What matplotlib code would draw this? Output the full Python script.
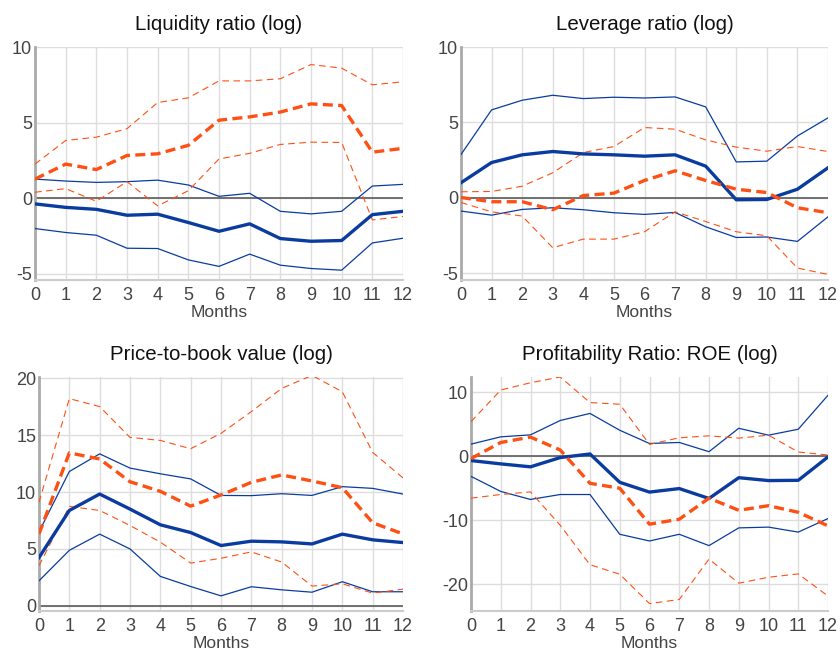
import matplotlib
matplotlib.use("Agg")
import matplotlib.pyplot as plt

months = list(range(13))

# Liquidity ratio (log)
liq_blue = [-0.37, -0.6, -0.73, -1.12, -1.05, -1.6, -2.18, -1.69, -2.66, -2.84, -2.79, -1.08, -0.86]
liq_blue_hi = [1.27, 1.14, 1.05, 1.1, 1.2, 0.88, 0.13, 0.33, -0.86, -1.03, -0.86, 0.81, 0.92]
liq_blue_lo = [-2.0, -2.26, -2.44, -3.3, -3.32, -4.07, -4.5, -3.69, -4.42, -4.64, -4.75, -2.95, -2.64]
liq_red = [1.27, 2.26, 1.9, 2.83, 2.94, 3.5, 5.16, 5.38, 5.7, 6.24, 6.13, 3.05, 3.3]
liq_red_hi = [2.26, 3.82, 4.04, 4.6, 6.33, 6.64, 7.76, 7.76, 7.9, 8.84, 8.6, 7.5, 7.7]
liq_red_lo = [0.4, 0.64, -0.2, 1.1, -0.5, 0.5, 2.6, 2.97, 3.56, 3.71, 3.69, -1.43, -1.2]

# Leverage ratio (log)
lev_blue = [1.0, 2.34, 2.85, 3.07, 2.91, 2.85, 2.76, 2.85, 2.1, -0.13, -0.11, 0.57, 1.99]
lev_blue_hi = [2.87, 5.83, 6.47, 6.8, 6.58, 6.67, 6.62, 6.69, 6.03, 2.38, 2.43, 4.1, 5.3]
lev_blue_lo = [-0.88, -1.15, -0.77, -0.66, -0.79, -0.99, -1.1, -0.97, -1.92, -2.63, -2.6, -2.89, -1.26]
lev_red = [0.02, -0.26, -0.26, -0.79, 0.15, 0.31, 1.15, 1.79, 1.15, 0.57, 0.35, -0.66, -0.99]
lev_red_hi = [0.4, 0.42, 0.77, 1.66, 3.0, 3.4, 4.66, 4.55, 3.84, 3.36, 3.09, 3.4, 3.07]
lev_red_lo = [-0.31, -0.93, -1.21, -3.31, -2.74, -2.74, -2.25, -0.93, -1.57, -2.25, -2.52, -4.66, -5.08]

# Price-to-book value (log)
pb_blue = [4.24, 8.38, 9.82, 8.5, 7.12, 6.44, 5.3, 5.68, 5.62, 5.44, 6.3, 5.8, 5.56]
pb_blue_hi = [6.5, 11.8, 13.35, 12.1, 11.6, 11.15, 9.7, 9.68, 9.85, 9.7, 10.47, 10.32, 9.82]
pb_blue_lo = [2.2, 4.88, 6.3, 5.0, 2.59, 1.7, 0.88, 1.68, 1.41, 1.2, 2.12, 1.24, 1.24]
pb_red = [6.32, 13.44, 12.9, 10.9, 10.06, 8.76, 9.74, 10.85, 11.5, 10.97, 10.38, 7.3, 6.32]
pb_red_hi = [9.1, 18.2, 17.5, 14.8, 14.53, 13.8, 15.15, 17.06, 19.1, 20.24, 18.8, 13.47, 11.24]
pb_red_lo = [3.53, 8.74, 8.38, 7.06, 5.6, 3.76, 4.18, 4.74, 3.85, 1.74, 1.94, 1.12, 1.47]

# Profitability Ratio: ROE (log)
roe_blue = [-0.67, -1.19, -1.65, -0.2, 0.36, -4.07, -5.6, -5.05, -6.6, -3.35, -3.8, -3.76, -0.1]
roe_blue_hi = [1.9, 3.04, 3.35, 5.6, 6.7, 4.07, 2.0, 2.16, 0.72, 4.38, 3.3, 4.23, 9.54]
roe_blue_lo = [-3.14, -5.5, -6.75, -5.98, -5.98, -12.2, -13.25, -12.2, -13.97, -11.2, -11.08, -11.86, -9.74]
roe_red = [-0.36, 2.16, 3.0, 0.98, -4.23, -5.0, -10.62, -9.85, -6.55, -8.45, -7.73, -8.76, -10.88]
roe_red_hi = [5.41, 10.36, 11.5, 12.4, 8.4, 8.14, 1.86, 2.89, 3.2, 2.84, 3.3, 0.67, 0.2]
roe_red_lo = [-6.55, -5.98, -5.57, -10.8, -16.96, -18.45, -23.04, -22.4, -16.08, -19.85, -18.92, -18.4, -21.86]

BLUE = "#0a3ca0"
RED = "#ff5014"

plt.rcParams['font.family'] = ['Liberation Sans', 'DejaVu Sans']
plt.rcParams['axes.unicode_minus'] = False

fig = plt.figure(figsize=(8.4, 6.5), dpi=100)

# plot areas in pixels: left, top, right, bottom
boxes = [
    (35, 47, 403, 280),
    (461, 47, 828, 280),
    (39, 377, 403, 611),
    (471, 377, 828, 611),
]

panels = [
    ("Liquidity ratio (log)", (liq_blue, liq_blue_hi, liq_blue_lo, liq_red, liq_red_hi, liq_red_lo),
     (-5.4, 10), [-5, 0, 5, 10]),
    ("Leverage ratio (log)", (lev_blue, lev_blue_hi, lev_blue_lo, lev_red, lev_red_hi, lev_red_lo),
     (-5.45, 10), [-5, 0, 5, 10]),
    ("Price-to-book value (log)", (pb_blue, pb_blue_hi, pb_blue_lo, pb_red, pb_red_hi, pb_red_lo),
     (-0.45, 20.1), [0, 5, 10, 15, 20]),
    ("Profitability Ratio: ROE (log)", (roe_blue, roe_blue_hi, roe_blue_lo, roe_red, roe_red_hi, roe_red_lo),
     (-24.2, 12.4), [-20, -10, 0, 10]),
]

W, H = 840, 650
for (x0, y0, x1, y1), (title, series, ylim, yticks) in zip(boxes, panels):
    ax = fig.add_axes([x0 / W, 1 - y1 / H, (x1 - x0) / W, (y1 - y0) / H])
    b, bhi, blo, r, rhi, rlo = series

    ax.axhline(0, color="#666666", lw=1.3, zorder=2)
    ax.plot(months, bhi, color=BLUE, lw=0.9, zorder=3)
    ax.plot(months, blo, color=BLUE, lw=0.9, zorder=3)
    ax.plot(months, rhi, color=RED, lw=0.8, dashes=(6, 4), zorder=3)
    ax.plot(months, rlo, color=RED, lw=0.8, dashes=(6, 4), zorder=3)
    ax.plot(months, b, color=BLUE, lw=2.4, zorder=4)
    ax.plot(months, r, color=RED, lw=2.4, dashes=(3, 1.6), zorder=4)

    ax.set_xlim(0, 12)
    ax.set_ylim(*ylim)
    ax.set_xticks(months)
    ax.set_yticks(yticks)
    ax.grid(True, color="#dddddd", lw=1.0, zorder=0)
    ax.set_axisbelow(True)
    ax.tick_params(length=0, labelsize=13, colors="#444444", pad=2)
    ax.tick_params(axis="x", pad=5)
    for side in ("top", "right"):
        ax.spines[side].set_visible(False)
    ax.spines["left"].set_color("#aaaaaa")
    ax.spines["left"].set_linewidth(2)
    ax.spines["bottom"].set_color("#cccccc")
    ax.spines["bottom"].set_linewidth(1.5)
    ax.set_xlabel("Months", fontsize=12.5, color="#444444", labelpad=1)
    ax.set_title(title, fontsize=14.8, color="#111111", pad=12)

fig.savefig("out.png", dpi=100)
